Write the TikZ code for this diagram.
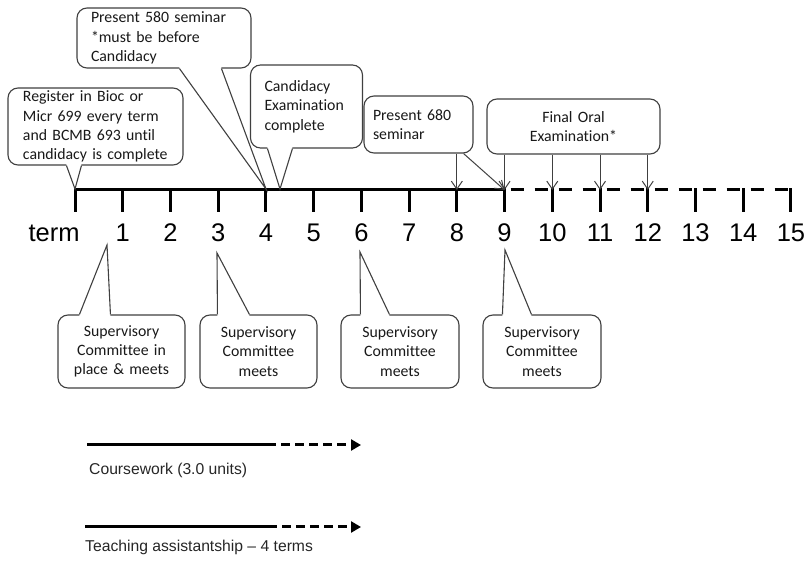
\documentclass[tikz,border=0pt]{standalone}
\usepackage{fontspec}
\setmainfont{Liberation Sans}
\newfontfamily\calfont[Ligatures=NoCommon]{Carlito}
\usetikzlibrary{arrows.meta,calc}
\begin{document}
\begin{tikzpicture}[x=1pt,y=-1pt,
  callout/.style={draw=black!75, line width=1.1pt, rounded corners=10pt, fill=white,
    inner sep=0pt, font=\calfont\fontsize{15.8}{19.3}\selectfont, text=black!90},
  ptr/.style={draw=black!75, line width=1.1pt, line join=miter},
  axisline/.style={line width=3pt},
  evarrow/.style={draw=black!75, line width=1pt, -{Straight Barb[length=8pt,width=11pt,line width=1pt]}},
  ticklab/.style={font=\fontsize{25.5}{30}\selectfont, anchor=base, inner sep=0pt},
  keylab/.style={font=\fontsize{15.7}{19}\selectfont, text=black!85, anchor=west, inner sep=0pt},
  keyline/.style={line width=3pt},
]
\useasboundingbox (0,0) rectangle (807,561);

% ---- timeline ----
\foreach \i in {0,...,15} {
  \coordinate (k\i) at ({75+47.73*\i},190);
  \coordinate (b\i) at ({75+47.73*\i},212);
}
\draw[axisline] (k0) -- (k9);
\draw[axisline, dash pattern=on 13pt off 11pt, dash phase=-6pt] (k9) -- (k15);
\foreach \i in {0,...,15} {
  \draw[axisline] ($(k\i)+(0,-1.5)$) -- (b\i);
}
\node[ticklab] (term) at (54,241.7) {term};
\foreach \i in {1,...,15} {
  \node[ticklab] (n\i) at ({75+47.73*\i},241.7) {\i};
}

% ---- upper callouts ----
\node[callout, minimum width=175pt, minimum height=77pt, text width=145pt, align=left]
  (reg) at (95.5,126.5) {Register in Bioc or\\Micr 699 every term\\and BCMB 693 until\\candidacy is complete};
\node[callout, minimum width=174pt, minimum height=60pt, text width=146pt, align=left]
  (p580) at (164,38) {Present 580 seminar\\{}*must be before\\Candidacy};
\node[callout, minimum width=112pt, minimum height=83pt, text width=84pt, align=left]
  (cand) at (306.5,106.5) {Candidacy\\Examination\\complete};
\node[callout, minimum width=109pt, minimum height=57pt, text width=91pt, align=left]
  (p680) at (418.5,124.5) {Present 680\\seminar};
\node[callout, minimum width=173pt, minimum height=55pt, text width=150pt, align=center]
  (final) at (573.5,126.5) {Final Oral\\Examination*};

% pointers (bottom edge -> timeline)
\coordinate (tipreg) at (75,189);
\coordinate (tip580) at (266,189);
\coordinate (tipcand) at (280,189);
\foreach \nm/\ta/\tb/\tip in {reg/59/74/tipreg, p580/103/145/tip580, cand/17.5/42.5/tipcand} {
  \fill[white] ($(\nm.south west)+(\ta,-1.5)$) -- ($(\nm.south west)+(\ta,0)$) -- (\tip)
     -- ($(\nm.south west)+(\tb,0)$) -- ($(\nm.south west)+(\tb,-1.5)$) -- cycle;
  \draw[ptr] ($(\nm.south west)+(\ta,0)$) -- (\tip) -- ($(\nm.south west)+(\tb,0)$);
}

% event arrows
\draw[evarrow] (p680.south -| k8) -- (k8);
\draw[evarrow] ($(p680.south east)+(-10,0)$) -- (k9);
\foreach \i in {9,10,11,12} {
  \draw[evarrow] (final.south -| k\i) -- (k\i);
}

% ---- lower callouts ----
\node[callout, minimum width=127pt, minimum height=73pt, text width=120pt, align=center]
  (scA) at (121.5,351.5) {Supervisory\\Committee in\\place \& meets};
\node[callout, minimum width=117pt, minimum height=73pt, text width=110pt, align=center]
  (scB) at (258.5,351.5) {Supervisory\\Committee\\meets};
\node[callout, minimum width=118pt, minimum height=73pt, text width=110pt, align=center]
  (scC) at (400,351.5) {Supervisory\\Committee\\meets};
\node[callout, minimum width=118pt, minimum height=73pt, text width=110pt, align=center]
  (scD) at (542,351.5) {Supervisory\\Committee\\meets};

\coordinate (tipA) at (107,245);
\coordinate (tipB) at (217,253);
\coordinate (tipC) at (360,252);
\coordinate (tipD) at (505,250);
\foreach \nm/\ta/\tb/\tip in {scA/22/53/tipA, scB/18/50/tipB, scC/20/49/tipC, scD/20/49/tipD} {
  \fill[white] ($(\nm.north west)+(\ta,1.5)$) -- ($(\nm.north west)+(\ta,0)$) -- (\tip)
     -- ($(\nm.north west)+(\tb,0)$) -- ($(\nm.north west)+(\tb,1.5)$) -- cycle;
  \draw[ptr] ($(\nm.north west)+(\ta,0)$) -- (\tip) -- ($(\nm.north west)+(\tb,0)$);
}

% ---- key ----
\coordinate (cwA) at (87,445);
\coordinate (cwB) at (267,445);
\coordinate (cwC) at (361,445);
\draw[keyline] (cwA) -- (cwB);
\draw[keyline, dash pattern=on 9pt off 5pt, -{Triangle[length=10pt,width=11pt]}] (cwB) -- (cwC);
\node[keylab] (cw) at (89,470) {Coursework (3.0 units)};

\coordinate (taA) at (85,527);
\coordinate (taB) at (268,527);
\coordinate (taC) at (361,527);
\draw[keyline] (taA) -- (taB);
\draw[keyline, dash pattern=on 9pt off 5pt, -{Triangle[length=10pt,width=11pt]}] (taB) -- (taC);
\node[keylab] (ta) at (85,547) {Teaching assistantship – 4 terms};
\end{tikzpicture}
\end{document}
